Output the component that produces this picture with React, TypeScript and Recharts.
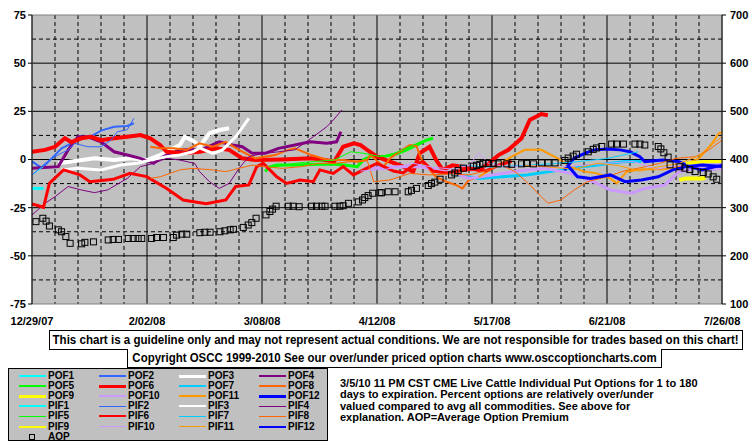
import React from "react"
import { LineChart, Line, XAxis, YAxis, CartesianGrid, ReferenceArea } from "recharts"

type Pt = [number, number]

// x axis: days since 12/29/07
const dateTicks = [0, 35, 70, 105, 140, 175, 210]
const dateLabels = ["12/29/07", "2/02/08", "3/08/08", "4/12/08", "5/17/08", "6/21/08", "7/26/08"]
const weekLines = [7, 14, 21, 28, 42, 49, 56, 63, 77, 84, 91, 98, 112, 119, 126, 133, 147, 154, 161, 168, 182, 189, 196, 203]
const majorDays = [35, 70, 105, 140, 175]
const pctTicks = [-75, -50, -25, 0, 25, 50, 75]
const pctMajor = [-50, -25, 0, 25, 50]
const pctHalf = [-62.5, -37.5, -12.5, 12.5, 37.5, 62.5]
const premTicks = [100, 200, 300, 400, 500, 600, 700]

// percent over/under series, [day, %]
const POF1: Pt[] = [[0, -15], [3.5, -15]]
const POF2: Pt[] = [[0, -1], [3, -4.5], [6, 0.6], [9, 5.8], [12, 8.4], [15, 11], [18, 12], [21, 15], [25, 17], [29, 17.4], [31, 18.8]]
const POF3: Pt[] = [[8, -2], [12, -1], [19, 0.6], [25, -0.3], [30, 0.6], [35, -0.3], [39, 2.3], [42, 5], [45, 7.5], [46.5, 11.8], [49.5, 9.2], [51, 6.6], [54, 13.6], [57, 15.3], [60, 16.2]]
const POF4: Pt[] = [[0, -4.6], [8, -3.7], [11, 5], [14, 11.8], [17, 11.8], [21, 9.2], [25, 4], [29, 2.3], [33, 0.6], [37, -2], [39, 0.6], [42, 3.2], [46, 5], [51.5, 5], [57, 9.2], [61, 7.5], [64, 6.6], [67, 3.2], [71, 3.2], [75, 5.8], [80, 7.5], [84.6, 9.2], [89.7, 8.4], [92.7, 9.2], [94, 14.4]]
const POF5: Pt[] = [[71, -6.3], [72, -4], [74.5, -2.9], [80.5, -2.9], [87, -2.5], [92, -2.5], [95, -2.9], [99, -3.7], [101, 0], [103, 1.5], [107, 1.5], [111, 3], [114, 5], [117, 7.5], [120, 10], [122, 11]]
const POF6: Pt[] = [[0, 4], [4, 5], [7, 6.6], [10, 11], [12, 9], [15, 11], [18, 11.8], [21, 10], [25, 11], [29, 11.8], [33, 12.7], [36, 11], [39, 7.5], [41, 4], [46, 3.3], [51, 4], [56, 5.8], [60, 5], [64, 0.6], [68, -0.3], [76, 0], [85, 0.6], [88, 0], [92, -1], [94.7, 6.6], [98, 8.4], [100, 7.5], [102, 5], [105, 1.5], [109, -1.1], [113, -3.7], [116, -6.3], [118, 3.2], [121, 6.6], [123, -0.3], [125, -5.4], [128, -3], [132, -4], [136, -5.4], [139, -2], [142, 2.3], [145, 5], [149, 11], [151.5, 20.5], [155, 23.6], [157, 23]]
const POF7: Pt[] = [[127, -7.2], [136, -9.8], [143, -9], [150.5, -8], [157.6, -6.3], [164, -4.6], [172, -2.9], [180.5, -1.1], [185.5, -1.1]]
const POF8: Pt[] = [[36, 6.6], [39, 5.8], [43, 5.8], [47, 5], [51, 8.4], [55, 6.6], [59, 9.2], [63, 5], [68, 0.6], [74, 2.3], [78, 5], [80, 5.8], [85, 2.3], [90, -0.3], [95, -0.3], [99, -1.1], [102, -0.3], [103, 2.3], [107, -3.7], [109, 0.6], [111, 3.2], [115, 7.5], [117, 7], [119, -2], [121, -5.4], [123, -9], [126, -11.5], [129, -13.2], [131, -15], [133, -10.6], [136, -9]]
const POF9: Pt[] = [[197, -10.6], [199, -9.8], [204, -9.8], [205, -9.5]]
const POF10: Pt[] = [[103, -4.6], [111, -3.7], [118, -3.7], [123, -5.4], [129, -7.2], [133, -9.8], [140, -8], [148, -6], [156, -4.6], [164, -7.2], [172, -12.4], [176, -15.8], [182.5, -17.5], [186.5, -15], [192.6, -13.2], [197, -6.3], [202, -4.6], [206, -5.4], [210, -4.6]]
const POF11: Pt[] = [[136, -9], [141, -3.7], [146, 1.5], [150, 5], [155, 5], [160, 0.6], [164, -3.7], [168, -6.3], [172, -7.2], [176, -9.8], [178, -12.4], [181, -6.3], [186, -5], [192, -5], [197, -3.7], [203, 0.6], [207, 8.4], [209, 13.6], [210, 14]]
const POF12: Pt[] = [[162, -5.4], [165, 0.6], [168, 3], [171, 5], [175, 5.5], [179, 5], [182, 4], [185, 1.5], [186.5, -1.1], [192, -0.3], [197, -1.1], [200, -3.7], [204, -5.4], [208, -3.7], [210, -3]]

const PIF1: Pt[] = [[0, -8], [3.5, -3.7]]
const PIF2: Pt[] = [[0, -8], [4, -2], [7, 1.5], [11, 5], [13, 8.4], [17, 6.6], [21, 6.6], [24, 10], [26, 14.4], [29, 15.5], [31, 21.4]]
const PIF3: Pt[] = [[9, -5.4], [14, -4.6], [21, -5.4], [27, -2.9], [32, -2], [36, -0.3], [41, 1.5], [45, 2.3], [49, 4], [51, 6], [55, 3.2], [58, 5], [62, 11.8], [66, 21.4]]
const PIF4: Pt[] = [[0, -28.8], [4, -22.7], [7, -19.3], [11, -14], [15, -15.8], [19, -17.2], [23, -15.8], [29, -9.8], [33, -3.7], [37, -2], [41, 0.6], [45, -0.3], [49.5, -2], [51, -6.3], [54, -11.5], [57, -15], [60, -12.4], [63, -4.6], [66, 1.5], [70, 3], [75, 4], [80, 5], [85.6, 11.8], [89.7, 17], [91.7, 20.5], [94.3, 25.7]]
const PIF5: Pt[] = [[74, -4], [80, -2], [86, -1], [92, -0.3], [97, 4], [101, 3.2], [106, 1.5], [110, 3], [114, 6], [118, 9], [122, 11.5]]
const PIF6: Pt[] = [[0, -23], [3.5, -24.8], [5.3, -12.4], [9.6, -5.4], [14.6, -8], [17.6, -11.5], [24.7, -10.3], [29.8, -7.2], [34.9, -8.9], [41, -15], [46, -21], [53, -23], [59, -21], [62, -14], [66, -13.2], [68.4, -3.7], [70.4, -2], [74.5, -9], [77.5, -12.4], [81.6, -10.6], [85.6, -11.5], [87.6, -5.4], [91.7, -7.2], [94.7, -3.7], [97.8, -8], [101.8, -4.6], [105, -2], [110, -6], [113, -7], [116, -3], [119, -1], [122, -6], [126, -7], [130, -6], [134, -5], [138, -6], [142, -3], [146, -1]]
const PIF7: Pt[] = [[130, -3], [140, -4], [150, -3], [160, -2], [166, -1.1], [175, 0.5], [184.5, 4]]
const PIF8: Pt[] = [[36, -9.8], [39, -9], [45, -5.4], [49, -4.6], [55, -5.4], [59, -6.3], [63, -4.6], [67, -2.9], [71, -3.7], [76, -4.6], [82, -3.7], [87, -2], [92, -2], [97, -1.1], [102, -0.3], [104, -11.5], [109, -10.6], [115, -7.2], [121, -8], [127, -7.5], [133, -8], [138, -6], [143, -2.9], [147, -6.3], [151, -12.4], [155, -19.3], [157, -22.7], [161, -21], [165, -15.8], [169, -11.5], [175, -9], [180, -6], [186, -4], [191, -2], [196, 0.6], [202, 1.5], [206, 5], [210, 10]]
const PIF9: Pt[] = [[199, -2], [205, -1.1], [210, -1.1]]
const PIF10: Pt[] = [[100, -6], [108, -5], [116, -2], [122, -4], [128, -5], [133, -3], [136, 3.2], [139, -2], [145, -4], [152, -3], [160, -4], [168, -3], [175, -2], [183, -1], [190, -5], [197, -3], [204, -4], [210, -2]]
const PIF11: Pt[] = [[150, -3], [158, -4], [165, -5], [172, -2], [178, -3], [185, -6], [190, -4], [197, -2], [203, 2], [210, 12]]
const PIF12: Pt[] = [[163, -3], [166, -9], [170, -9.8], [176, -8], [180.5, -11.5], [185.5, -10.6], [190.6, -9], [195, -5.4], [199, -3.7], [204, -2.9], [210, -3.7]]

// average option premium (right axis)
const aopDays = [1.2, 3.3, 4.3, 5.3, 8, 9, 10.3, 11.6, 15.1, 16.1, 18.7, 23.2, 24.7, 26.3, 29.3, 30.8, 32.3, 33.4, 36.4, 37.9, 40, 43, 44, 45.6, 47.1, 51.1, 52.6, 54.2, 57.2, 58.7, 60.3, 61.3, 64.3, 65.8, 66.9, 68.2, 71.2, 72.4, 73.2, 74.3, 78, 79.5, 81.3, 85.1, 86.6, 88.2, 89.2, 92.2, 93.7, 94.7, 96.3, 99.3, 100.6, 101.3, 102.3, 103.7, 105.9, 106.4, 108.4, 110.5, 114.5, 115.5, 117, 120.6, 121.6, 122.6, 124.2, 127.7, 128.7, 129.7, 131.3, 134.3, 135.3, 136.3, 137.3, 138.9, 140.4, 141.9, 144.5, 146, 149, 150.5, 152.6, 155.1, 157.1, 159.2, 162.2, 163.2, 164.7, 165.7, 169.3, 170.8, 171.8, 173.4, 176.4, 177.9, 180, 183.5, 185, 186.5, 190.6, 191.4, 192.3, 193.6, 194.2, 197.2, 198.7, 200.2, 201.8, 204.3, 205.8, 207.3, 208.4]
const aopValues = [271, 278, 272, 262, 254, 250, 240, 226, 225, 228, 229, 233, 234, 234, 236, 236, 236, 236, 236, 238, 238, 238, 243, 245, 245, 248, 249, 249, 250, 252, 254, 255, 259, 264, 269, 278, 285, 292, 297, 303, 303, 303, 302, 303, 303, 303, 303, 303, 303, 304, 309, 312, 316, 321, 325, 330, 331, 331, 333, 333, 333, 336, 340, 346, 350, 353, 359, 368, 372, 377, 382, 386, 388, 390, 392, 392, 392, 391, 391, 390, 391, 392, 391, 393, 393, 393, 398, 403, 407, 411, 416, 421, 424, 427, 432, 432, 432, 432, 432, 430, 427, 422, 414, 405, 389, 385, 382, 379, 375, 373, 370, 364, 359]

const CYAN = "#00FFFF"
const BLUE2 = "#3366FF"
const WHITE = "#FFFFFF"
const PURPLE = "#800080"
const GREEN = "#00FF00"
const RED = "#FF0000"
const SKY = "#00CCFF"
const ORANGE = "#FF6600"
const YELLOW = "#FFFF00"
const LAVENDER = "#CC99FF"
const AMBER = "#FF9900"
const BLUE = "#0000FF"

const series = [
  { name: "POF1", pts: POF1, color: CYAN, w: 3, lw: 2 },
  { name: "POF2", pts: POF2, color: BLUE2, w: 2, lw: 2 },
  { name: "POF3", pts: POF3, color: WHITE, w: 4, lw: 3 },
  { name: "POF4", pts: POF4, color: PURPLE, w: 3, lw: 2 },
  { name: "POF5", pts: POF5, color: GREEN, w: 3, lw: 2 },
  { name: "POF6", pts: POF6, color: RED, w: 4, lw: 3 },
  { name: "POF7", pts: POF7, color: SKY, w: 3, lw: 2 },
  { name: "POF8", pts: POF8, color: ORANGE, w: 2, lw: 2 },
  { name: "POF9", pts: POF9, color: YELLOW, w: 4, lw: 3 },
  { name: "POF10", pts: POF10, color: LAVENDER, w: 3, lw: 2 },
  { name: "POF11", pts: POF11, color: AMBER, w: 2, lw: 2 },
  { name: "POF12", pts: POF12, color: BLUE, w: 3, lw: 3 },
  { name: "PIF1", pts: PIF1, color: CYAN, w: 1, lw: 2 },
  { name: "PIF2", pts: PIF2, color: BLUE2, w: 1, lw: 1 },
  { name: "PIF3", pts: PIF3, color: WHITE, w: 3, lw: 2 },
  { name: "PIF4", pts: PIF4, color: PURPLE, w: 1, lw: 1 },
  { name: "PIF5", pts: PIF5, color: GREEN, w: 1, lw: 1 },
  { name: "PIF6", pts: PIF6, color: RED, w: 3, lw: 2 },
  { name: "PIF7", pts: PIF7, color: SKY, w: 1, lw: 1 },
  { name: "PIF8", pts: PIF8, color: ORANGE, w: 1, lw: 1 },
  { name: "PIF9", pts: PIF9, color: YELLOW, w: 3, lw: 2 },
  { name: "PIF10", pts: PIF10, color: LAVENDER, w: 1, lw: 1 },
  { name: "PIF11", pts: PIF11, color: AMBER, w: 1, lw: 1 },
  { name: "PIF12", pts: PIF12, color: BLUE, w: 3, lw: 2 },
]

const aopData = aopDays.map((d, i) => ({ d, v: aopValues[i] }))

const FONT = "'Liberation Sans', Arial, sans-serif"
const tick = { fontFamily: FONT, fontSize: 11, fontWeight: 700, fill: "#000" }

const Square = (props: any) => {
  const { cx, cy, index } = props
  if (cx == null || cy == null) return <g key={`aop-${index}`} />
  return <rect key={`aop-${index}`} x={cx - 3} y={cy - 3} width={6} height={6} fill="none" stroke="#000" strokeWidth={1} />
}

// narrow bold text, squeezed horizontally to match the bitmap font of the original
function Squeezed({ text, k }: { text: string; k: number }) {
  return <span style={{ display: "inline-block", whiteSpace: "nowrap", transform: `scaleX(${k})`, transformOrigin: "center" }}>{text}</span>
}

function Legend() {
  const rowH = 10.1
  const label = { position: "absolute" as const, fontFamily: FONT, fontSize: 10, fontWeight: 700, lineHeight: "10px", height: 10, whiteSpace: "nowrap" as const }
  return (
    <div style={{ position: "absolute", left: 8, top: 368, width: 318, height: 71, border: "1px solid #000", background: "#C0C0C0" }}>
      {series.map((s, i) => {
        const col = i % 4
        const row = Math.floor(i / 4)
        const cy = 7 + row * rowH
        return (
          <React.Fragment key={s.name}>
            <div style={{ position: "absolute", left: 10 + col * 80, top: cy - s.lw / 2, width: 27, height: s.lw, background: s.color }} />
            <div style={{ ...label, left: 39 + col * 80, top: cy - 5 }}>{s.name}</div>
          </React.Fragment>
        )
      })}
      <div style={{ position: "absolute", left: 20, top: 7 + 6 * rowH - 3, width: 4, height: 4, border: "1px solid #000" }} />
      <div style={{ ...label, left: 39, top: 7 + 6 * rowH - 5 }}>AOP</div>
    </div>
  )
}

export default function App() {
  const boxText = { display: "flex", justifyContent: "center", alignItems: "center", fontSize: 12, fontWeight: 700, lineHeight: "18px", whiteSpace: "nowrap" as const, overflow: "visible" }
  return (
    <div style={{ position: "absolute", left: 0, top: 0, width: 755, height: 446, background: "#fff", fontFamily: FONT }}>
      <LineChart width={755} height={340} margin={{ top: 15, right: 0, bottom: 0, left: 0 }}>
        <XAxis
          xAxisId="d"
          type="number"
          dataKey="d"
          domain={[0, 210]}
          ticks={dateTicks}
          interval={0}
          tickFormatter={(v: number) => dateLabels[dateTicks.indexOf(v)] ?? ""}
          axisLine={false}
          tickLine={false}
          tickMargin={7}
          height={36}
          tick={tick}
          allowDataOverflow
        />
        <YAxis
          yAxisId="left"
          domain={[-75, 75]}
          ticks={pctTicks}
          interval={0}
          width={32}
          tickSize={4}
          tickMargin={2}
          axisLine={{ stroke: "#000" }}
          tickLine={{ stroke: "#000" }}
          tick={tick}
        />
        <YAxis
          yAxisId="right"
          orientation="right"
          domain={[100, 700]}
          ticks={premTicks}
          interval={0}
          width={33}
          tickSize={4}
          tickMargin={4}
          axisLine={{ stroke: "#000" }}
          tickLine={{ stroke: "#000" }}
          tick={tick}
        />
        <CartesianGrid
          xAxisId="d"
          yAxisId="left"
          fill="#C0C0C0"
          fillOpacity={1}
          stroke="#000"
          strokeDasharray="4 3"
          horizontalValues={pctHalf}
          verticalValues={weekLines}
        />
        <CartesianGrid
          xAxisId="d"
          yAxisId="left"
          stroke="#000"
          horizontalValues={pctMajor}
          verticalValues={majorDays}
        />
        <ReferenceArea xAxisId="d" yAxisId="left" x1={0} x2={210} y1={-75} y2={75} fill="none" stroke="#808080" />
        {series.map((s) => (
          <Line
            key={s.name}
            xAxisId="d"
            yAxisId="left"
            data={s.pts.map(([d, v]) => ({ d, v }))}
            dataKey="v"
            stroke={s.color}
            strokeWidth={s.w}
            dot={false}
            activeDot={false}
            isAnimationActive={false}
          />
        ))}
        <Line
          xAxisId="d"
          yAxisId="right"
          data={aopData}
          dataKey="v"
          stroke="none"
          dot={Square}
          activeDot={false}
          isAnimationActive={false}
        />
      </LineChart>

      <div style={{ ...boxText, position: "absolute", left: 49, top: 330, width: 692, height: 18, border: "1px solid #000", background: "#fff" }}>
        <Squeezed k={0.962} text="This chart is a guideline only and may not represent actual conditions. We are not responsible for trades based on this chart!" />
      </div>
      <div style={{ ...boxText, position: "absolute", left: 127, top: 349, width: 533, height: 18, border: "1px solid #000", borderTop: "none", background: "#fff" }}>
        <Squeezed k={0.955} text="Copyright OSCC 1999-2010 See our over/under priced option charts www.osccoptioncharts.com" />
      </div>
      <Legend />
      <div style={{ position: "absolute", left: 340, top: 378, width: 410, fontSize: 11, fontWeight: 700, lineHeight: "11.3px" }}>
        3/5/10 11 PM CST CME Live Cattle Individual Put Options for 1 to 180<br />
        days to expiration. Percent options are relatively over/under<br />
        valued compared to avg all commodities. See above for<br />
        explanation. AOP=Average Option Premium
      </div>
    </div>
  )
}
